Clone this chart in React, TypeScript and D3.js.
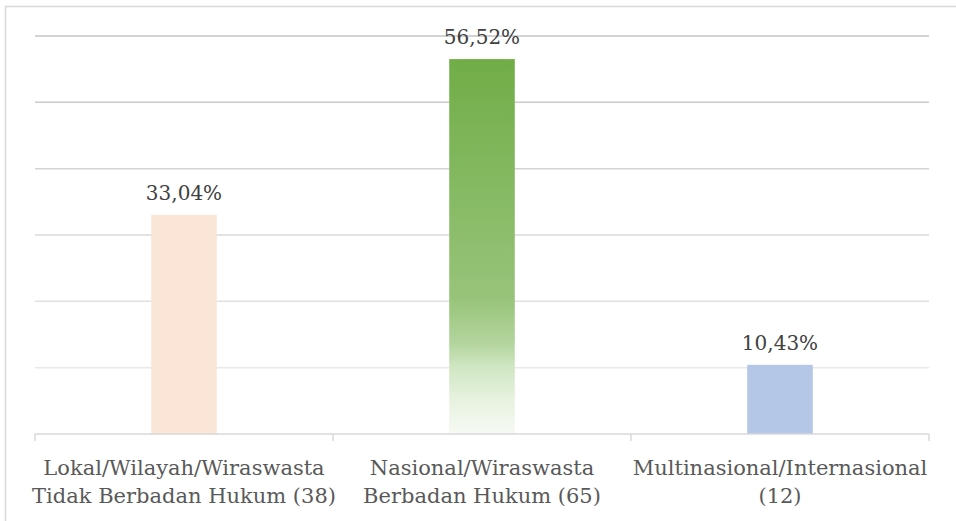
import React, { useEffect, useRef } from "react";
import * as d3 from "d3";

const categories = [
  ["Lokal/Wilayah/Wiraswasta", "Tidak Berbadan Hukum (38)"],
  ["Nasional/Wiraswasta", "Berbadan Hukum (65)"],
  ["Multinasional/Internasional", "(12)"],
];
const values = [33.04, 56.52, 10.43];
const valueLabels = ["33,04%", "56,52%", "10,43%"];
const yTicks = [0, 10, 20, 30, 40, 50, 60];

const W = 956;
const H = 521;

export default function App() {
  const svgRef = useRef<SVGSVGElement | null>(null);

  useEffect(() => {
    document.body.style.margin = "0";
    if (!svgRef.current) return;
    const svg = d3.select(svgRef.current);
    svg.selectAll("*").remove();

    const margin = { top: 36, right: 27, bottom: 87, left: 35 };
    const innerW = W - margin.left - margin.right;
    const innerH = H - margin.top - margin.bottom;
    const font = "'DejaVu Serif', serif";

    // outer chart border (only top/left visible in the reference)
    svg.append("rect").attr("x", 5.5).attr("y", 6.5).attr("width", W + 10).attr("height", H + 10)
      .attr("fill", "#fff").attr("stroke", "#d9d9d9").attr("stroke-width", 1.5);

    const defs = svg.append("defs");
    const grad = defs.append("linearGradient").attr("id", "greenFade")
      .attr("x1", "0%").attr("y1", "0%").attr("x2", "0%").attr("y2", "100%");
    [
      [0, "#70AD47"], [0.64, "#98C47A"], [0.76, "#B3D59E"],
      [0.82, "#D0E6C2"], [0.91, "#E8F2E0"], [1, "#F6FAF3"],
    ].forEach(([o, c]) => grad.append("stop").attr("offset", o as number).attr("stop-color", c as string));

    const g = svg.append("g").attr("transform", `translate(${margin.left},${margin.top})`);

    const x = d3.scaleBand<number>().domain(d3.range(values.length)).range([0, innerW]).paddingInner(0.78).paddingOuter(0.39);
    const band = d3.scaleBand<number>().domain(d3.range(values.length)).range([0, innerW]);
    const y = d3.scaleLinear().domain([0, 60]).range([innerH, 0]);

    const gridColor = d3.scaleLinear<string>().domain([60, 0]).range(["#c4c4c4", "#f0f0f0"]);
    g.selectAll("line.grid").data(yTicks.filter((t) => t > 0)).join("line")
      .attr("class", "grid")
      .attr("x1", 0).attr("x2", innerW)
      .attr("y1", (d) => y(d)).attr("y2", (d) => y(d))
      .attr("stroke", (d) => gridColor(d)).attr("stroke-width", 1.5);

    const fills = ["#FBE5D6", "url(#greenFade)", "#B4C7E7"];
    g.selectAll("rect.bar").data(values).join("rect")
      .attr("class", "bar")
      .attr("x", (_, i) => x(i)!)
      .attr("width", x.bandwidth())
      .attr("y", (d) => y(d))
      .attr("height", (d) => innerH - y(d))
      .attr("fill", (_, i) => fills[i]);

    // axis line and category ticks
    g.append("line").attr("x1", 0).attr("x2", innerW).attr("y1", innerH).attr("y2", innerH)
      .attr("stroke", "#d9d9d9").attr("stroke-width", 1.5);
    const bounds = [...d3.range(values.length).map((i) => band(i)!), innerW];
    g.selectAll("line.tick").data(bounds).join("line")
      .attr("class", "tick")
      .attr("x1", (d) => d).attr("x2", (d) => d)
      .attr("y1", innerH).attr("y2", innerH + 7)
      .attr("stroke", "#d9d9d9").attr("stroke-width", 1.5);

    g.selectAll("text.val").data(values).join("text")
      .attr("class", "val")
      .attr("x", (_, i) => x(i)! + x.bandwidth() / 2)
      .attr("y", (d) => y(d) - 15)
      .attr("text-anchor", "middle")
      .attr("font-family", font).attr("font-size", 20)
      .attr("fill", "#404040")
      .text((_, i) => valueLabels[i]);

    categories.forEach((lines, i) => {
      const t = g.append("text")
        .attr("x", band(i)! + band.bandwidth() / 2)
        .attr("y", innerH + 41)
        .attr("text-anchor", "middle")
        .attr("font-family", font).attr("font-size", 21)
        .attr("fill", "#595959");
      lines.forEach((l, j) => t.append("tspan")
        .attr("x", band(i)! + band.bandwidth() / 2)
        .attr("dy", j === 0 ? 0 : 28).text(l));
    });
  }, []);

  return <svg ref={svgRef} width={W} height={H} style={{ display: "block", background: "#fff" }} />;
}
